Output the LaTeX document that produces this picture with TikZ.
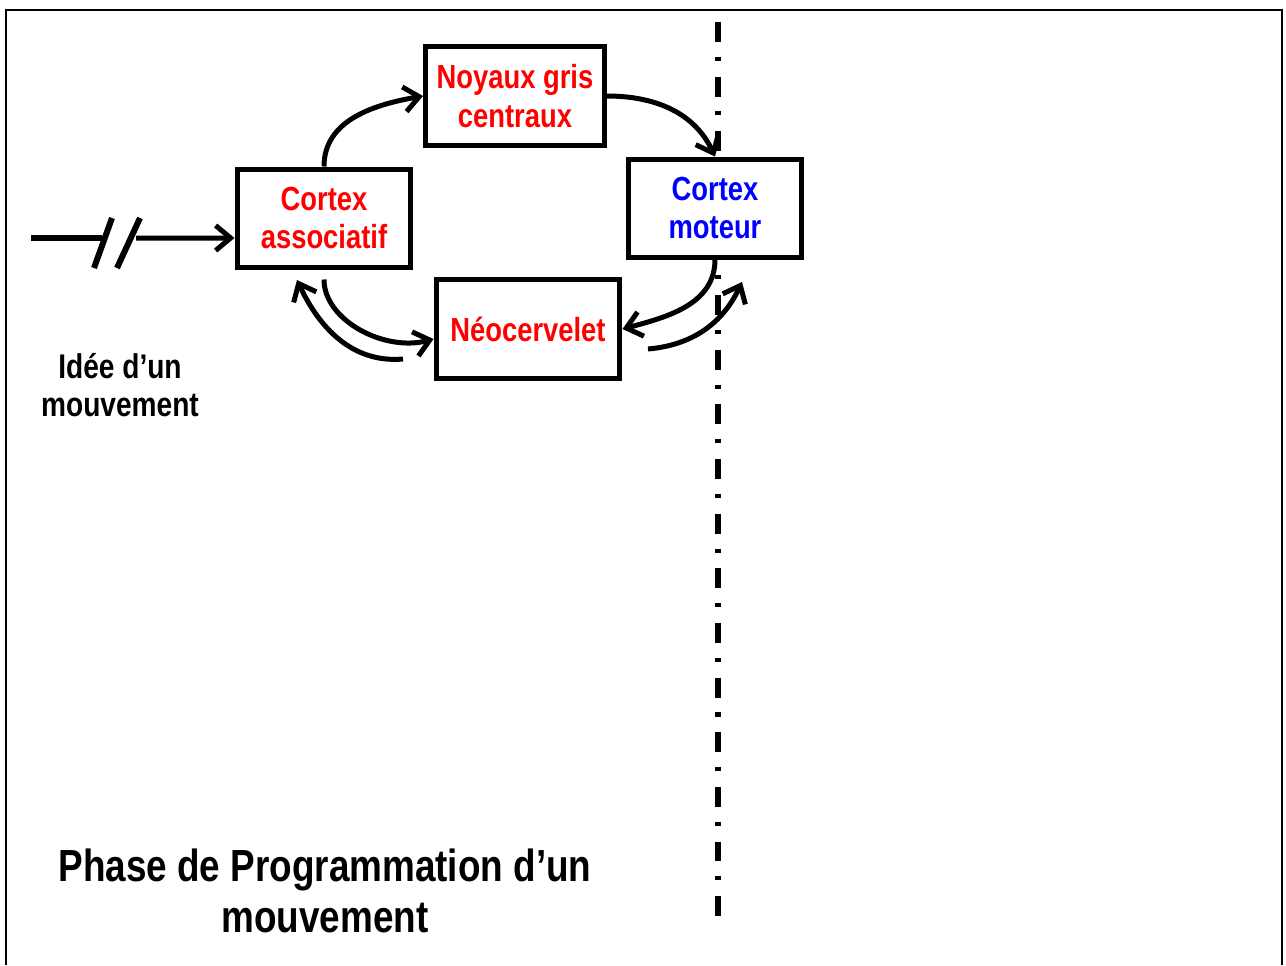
\documentclass[tikz,border=0pt]{standalone}
\usepackage{fontspec}
\setmainfont{Liberation Sans}[FakeStretch=0.82]
\usetikzlibrary{arrows.meta}

\begin{document}
\begin{tikzpicture}[x=0.02cm,y=-0.02cm,
  box/.style={draw,fill=white,line width=0.1cm,minimum width=3.48cm,minimum height=1.96cm,
    align=center,inner sep=0pt,font=\fontsize{19}{22}\selectfont\bfseries},
  arr/.style={line width=0.1cm,-{Straight Barb[length=0.3cm,width=0.5cm]}},
  label/.style={align=center,font=\fontsize{19.5}{22}\selectfont\bfseries}]

\useasboundingbox (0,0) rectangle (1286,965);
\draw[line width=0.05cm] (6,965)--(6,10)--(1282,10)--(1282,965);

% separation
\draw[line width=0.11cm,dash pattern=on 11.3pt off 8.5pt on 2.3pt off 9pt] (718,22)--(718,926);

% boxes
\node[box,text=red] (assoc) at (324,218) {Cortex\\associatif};
\node[box,text=red,minimum width=3.58cm,minimum height=1.98cm] (noyaux) at (515,96) {Noyaux gris\\centraux};
\node[box,text=blue] (moteur) at (715,208) {Cortex\\moteur};
\node[box,text=red,minimum width=3.68cm,minimum height=1.98cm] (neo) at (528,329) {Néocervelet};

% input
\coordinate (in) at (31,238);
\coordinate (cut1) at (102,238);
\coordinate (cut2) at (136,238);
\draw[line width=0.13cm] (in)--(cut1);
\draw[line width=0.12cm] (94,268)--(112,218);
\draw[line width=0.12cm] (117,268)--(140,218);
\draw[arr] (cut2)--([yshift=-0.4cm]assoc.west);

% loops
\draw[arr] (assoc.north) to[out=90,in=190] (noyaux.west);
\draw[arr] (noyaux.east) to[out=0,in=115] (moteur.north);
\draw[arr] (moteur.south) to[out=-90,in=15] (neo.east);
\coordinate (r1) at (648,349);
\coordinate (r1end) at (742,282);
\draw[arr] (r1) to[out=5,in=-115] (r1end);
\draw[arr,shorten <=0.2cm] (assoc.south) to[out=-90,in=195] ([yshift=-0.2cm]neo.west);
\coordinate (r2) at (403,359);
\coordinate (r2end) at (297,280);
\draw[arr] (r2) to[out=185,in=-65] (r2end);

% texts
\node[label] (idee) at (120,385) {Idée d’un\\mouvement};
\node[label,font=\fontsize{25.6}{29}\selectfont\bfseries] (phase) at (325,891) {Phase de Programmation d’un\\mouvement};

\end{tikzpicture}
\end{document}
